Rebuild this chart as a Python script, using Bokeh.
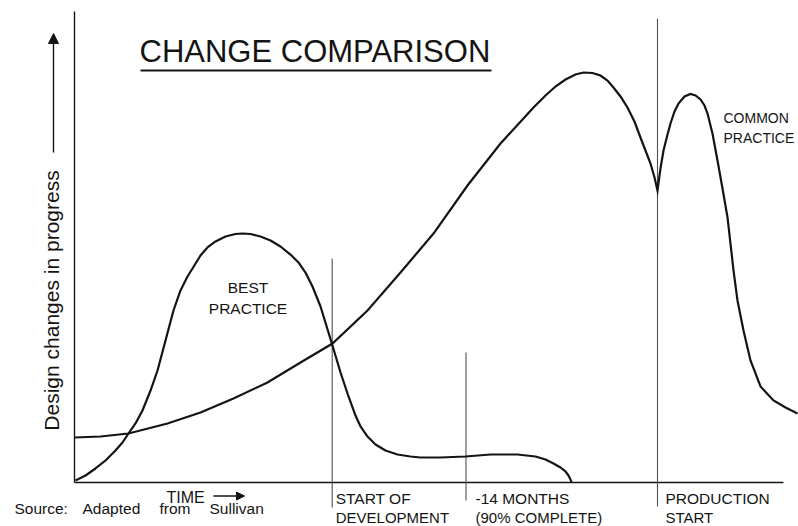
from bokeh.plotting import figure
from bokeh.models import Range1d, Arrow, NormalHead
from bokeh.core.properties import value
from bokeh.embed import file_html
from bokeh.resources import INLINE

# ---------------- data (time units: production start = 100; changes: common-practice peak ~ 100)
best_t = [0.17, 1.89, 3.60, 5.32, 7.03, 8.23, 9.26, 10.46, 11.66, 13.04, 14.24, 15.61, 16.98,
          18.18, 19.38, 20.24, 21.61, 22.81, 24.19, 25.90, 27.62, 28.82, 30.19, 31.90, 33.62,
          35.33, 37.05, 38.42, 39.62, 40.82, 42.20, 44.25, 45.63, 46.83, 48.20, 49.06, 50.26,
          51.63, 53.34, 55.40, 57.63, 59.35, 62.78, 67.07, 71.36, 75.99, 79.07, 80.79, 82.16,
          83.36, 84.22, 84.73, 85.08, 85.25]
best_v = [0.49, 1.70, 3.41, 5.35, 7.79, 9.73, 11.92, 14.36, 17.52, 22.38, 27.25, 34.55, 41.85,
          46.72, 50.12, 52.07, 55.23, 57.18, 58.64, 59.85, 60.46, 60.58, 60.46, 59.85, 58.88,
          57.42, 55.47, 53.53, 51.09, 47.69, 42.82, 33.33, 26.76, 21.65, 16.30, 13.63, 11.19,
          9.25, 7.79, 6.81, 6.33, 6.08, 6.08, 6.33, 6.81, 6.81, 6.33, 5.60, 4.62,
          3.65, 2.68, 1.70, 0.73, 0.0]

common_t = [0.0, 4.46, 9.26, 15.95, 21.61, 27.27, 33.10, 38.77, 44.25, 50.26, 55.92, 61.58,
            67.41, 73.07, 78.73, 80.79, 82.50, 84.22, 85.93, 87.31, 88.85, 90.22, 91.42, 92.45,
            93.65, 94.85, 96.05, 97.08, 97.94, 98.80, 99.49, 100.0, 100.51, 101.03, 101.72,
            102.23, 102.92, 103.60, 104.63, 105.66, 106.52, 107.38, 108.06, 108.58, 109.43,
            110.29, 111.15, 112.01, 112.52, 113.04, 113.72, 114.75, 115.95, 117.67, 119.90,
            121.96, 124.01]
common_v = [10.95, 11.19, 11.92, 14.36, 17.03, 20.44, 24.33, 29.20, 33.82, 41.85, 51.09, 60.58,
            72.26, 82.48, 91.24, 94.16, 96.35, 98.05, 99.27, 99.76, 99.64, 99.03, 97.81, 96.11,
            93.92, 91.24, 87.83, 83.94, 80.78, 77.62, 74.21, 71.05, 76.40, 80.78, 84.67,
            87.35, 90.27, 92.21, 93.92, 94.53, 94.16, 93.19, 91.73, 89.78, 84.91,
            78.35, 71.53, 64.48, 58.15, 51.58, 44.28, 36.98, 29.68, 23.36, 19.95,
            18.25, 16.79]

event_t = [44.2, 67.15, 100.0]
event_line1 = ["START OF", "-14 MONTHS", "PRODUCTION"]
event_line2 = ["DEVELOPMENT", "(90% COMPLETE)", "START"]

title_text = "CHANGE COMPARISON"
y_label = "Design changes in progress"
x_label = "TIME"
source_words = ["Source:", "Adapted", "from", "Sullivan"]
best_label = ["BEST", "PRACTICE"]
common_label = ["COMMON", "PRACTICE"]

# ---------------- layout helpers (page pixel -> data units)
W, H = 798, 526
SX, SY = 5.83, 4.11
OX, OY = 74.0, 482.0  # page position of the origin
K = 0.3  # baseline correction (fraction of font size)


def X(px):
    return (px - OX) / SX


def Y(py):
    return (OY - py) / SY


def YB(py, fs):
    """data y for a text whose alphabetic baseline should sit at page y = py"""
    return Y(py - K * fs)


FONT = value("Liberation Sans")
INK = "#141414"

p = figure(width=W, height=H, output_backend="svg", toolbar_location=None,
           x_axis_location=None, y_axis_location=None, title=None,
           x_range=Range1d(X(0), X(W)), y_range=Range1d(Y(H), Y(0)),
           min_border=0, min_border_left=0, min_border_right=0,
           min_border_top=0, min_border_bottom=0)
p.outline_line_color = None
p.xgrid.visible = False
p.ygrid.visible = False
p.background_fill_color = "white"
p.border_fill_color = "white"

# axes
p.segment(x0=[0], y0=[0], x1=[X(783)], y1=[0], line_color=INK, line_width=1.4)
p.segment(x0=[0], y0=[0], x1=[0], y1=[Y(11)], line_color=INK, line_width=1.4)

# event lines
tops = [Y(258), Y(352), Y(18)]
bottoms = [Y(507), Y(500), Y(506)]
p.segment(x0=event_t, y0=bottoms, x1=event_t, y1=tops, line_color="#505050", line_width=1.1)

# curves
p.line(best_t, best_v, line_color=INK, line_width=2.2, line_join="round")
p.line(common_t, common_v, line_color=INK, line_width=2.2, line_join="miter")

# event labels
FS = 15.5
FS2 = 15
offsets = [3.5, 9.5, 8.0]
lx = [t + o / SX for t, o in zip(event_t, offsets)]
p.text(x=lx, y=[YB(502.5, FS)] * 3, text=event_line1, text_font=FONT,
       text_font_size=value(f"{FS}px"), text_color=INK, text_baseline="alphabetic",
       text_align="left")
p.text(x=lx, y=[YB(521.5, FS2)] * 3, text=event_line2, text_font=FONT,
       text_font_size=value(f"{FS2}px"), text_color=INK, text_baseline="alphabetic",
       text_align="left")

# title
p.text(x=[X(139)], y=[YB(60, 31)], text=[title_text], text_font=FONT,
       text_font_size=value("31px"), text_color=INK, text_baseline="alphabetic",
       text_align="left")
p.segment(x0=[X(140)], y0=[Y(70)], x1=[X(491)], y1=[Y(70)], line_color=INK, line_width=2)

# y label + arrow
p.text(x=[X(57 - K * 21)], y=[Y(300)], text=[y_label], angle=1.5708, text_font=FONT,
       text_font_size=value("21px"), text_color=INK, text_baseline="alphabetic",
       text_align="center")
p.add_layout(Arrow(end=NormalHead(size=10, fill_color=INK, line_color=INK),
                   x_start=X(53), y_start=Y(152), x_end=X(53), y_end=Y(33),
                   line_color=INK, line_width=1.4))

# x label + arrow
p.text(x=[X(166)], y=[YB(502, 16)], text=[x_label], text_font=FONT,
       text_font_size=value("16px"), text_color=INK, text_baseline="alphabetic",
       text_align="left")
p.add_layout(Arrow(end=NormalHead(size=8, fill_color=INK, line_color=INK),
                   x_start=X(213), y_start=Y(495.5), x_end=X(244), y_end=Y(495.5),
                   line_color=INK, line_width=1.4))

# source
p.text(x=[X(14), X(82), X(159), X(209)], y=[YB(513, FS)] * 4, text=source_words,
       text_font=FONT, text_font_size=value(f"{FS}px"), text_color=INK,
       text_baseline="alphabetic", text_align="left")

# curve labels
p.text(x=[X(247.5), X(247.5)], y=[YB(292, FS), YB(313, FS)], text=best_label, text_font=FONT,
       text_font_size=value(f"{FS}px"), text_color=INK, text_baseline="alphabetic",
       text_align="center")
p.text(x=[X(723), X(723)], y=[YB(122, 14), YB(142, 14)], text=common_label, text_font=FONT,
       text_font_size=value("14px"), text_color=INK, text_baseline="alphabetic",
       text_align="left")

open("out.html", "w").write(file_html(p, INLINE))
